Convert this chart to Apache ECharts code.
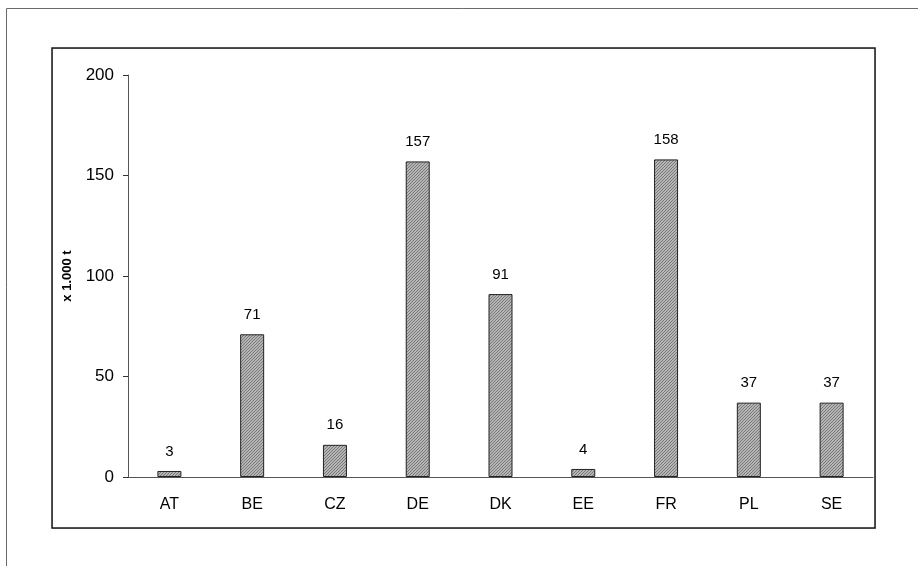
<!DOCTYPE html>
<html>
<head>
<meta charset="utf-8">
<script src="https://cdn.jsdelivr.net/npm/echarts@6/dist/echarts.min.js"></script>
<style>
  html, body { margin: 0; padding: 0; background: #fff; }
  #chart { width: 918px; height: 566px; }
</style>
</head>
<body>
<div id="chart"></div>
<script>
// Countries and tonnages (thousand tonnes)
const countries = ['AT', 'BE', 'CZ', 'DE', 'DK', 'EE', 'FR', 'PL', 'SE'];
const tonnes = [3, 71, 16, 157, 91, 4, 158, 37, 37];
const yAxisTitle = 'x 1.000 t';

// Fine diagonal hatch fill for the bars
function hatchPattern() {
  const c = document.createElement('canvas');
  c.width = 3; c.height = 3;
  const g = c.getContext('2d');
  g.fillStyle = '#b4b4b4';
  g.fillRect(0, 0, 3, 3);
  g.fillStyle = '#7a7a7a';
  g.fillRect(2, 0, 1, 1);
  g.fillRect(1, 1, 1, 1);
  g.fillRect(0, 2, 1, 1);
  return c;
}

const chart = echarts.init(document.getElementById('chart'), null, { renderer: 'canvas' });
const font = 'Arial, "Liberation Sans", sans-serif';

chart.setOption({
  animation: false,
  backgroundColor: '#fff',
  graphic: [
    // outer border (top and left edges)
    { type: 'polyline', shape: { points: [[6.5, 566], [6.5, 8.5], [918, 8.5]] },
      style: { stroke: '#6a6a6a', lineWidth: 1, fill: null }, silent: true },
    // chart frame
    { type: 'rect', shape: { x: 52.5, y: 48.5, width: 823, height: 480 },
      style: { stroke: '#bbb', lineWidth: 1, fill: null }, silent: true },
    { type: 'rect', shape: { x: 52, y: 48, width: 823, height: 480 },
      style: { stroke: '#1a1a1a', lineWidth: 1.5, fill: null }, silent: true }
  ],
  grid: { left: 128, right: 45, top: 75, bottom: 89, containLabel: false },
  xAxis: {
    type: 'category',
    data: countries,
    axisLine: { lineStyle: { color: '#555', width: 1 } },
    axisTick: { alignWithLabel: false, length: 5, lineStyle: { color: '#333' } },
    axisLabel: { color: '#000', fontSize: 16, fontFamily: font, margin: 20 }
  },
  yAxis: {
    type: 'value',
    min: 0, max: 200, interval: 50,
    name: yAxisTitle,
    nameLocation: 'middle',
    nameGap: 54,
    nameRotate: 90,
    nameTextStyle: { color: '#000', fontSize: 13, fontWeight: 'bold', fontFamily: font },
    axisLine: { show: true, lineStyle: { color: '#555', width: 1 } },
    axisTick: { show: true, length: 5, lineStyle: { color: '#333' } },
    axisLabel: { color: '#000', fontSize: 17, fontFamily: font, margin: 14 },
    splitLine: { show: false }
  },
  series: [{
    type: 'bar',
    data: tonnes,
    barWidth: 24,
    itemStyle: {
      color: { image: hatchPattern(), repeat: 'repeat' },
      borderColor: '#222',
      borderWidth: 1
    },
    label: {
      show: true,
      position: 'top',
      distance: 12,
      color: '#000',
      fontSize: 15,
      fontFamily: font
    }
  }]
});
</script>
</body>
</html>
